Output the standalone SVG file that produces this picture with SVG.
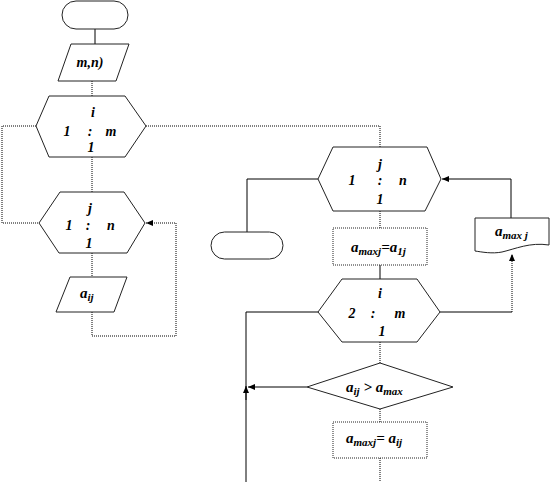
<svg xmlns="http://www.w3.org/2000/svg" width="550" height="482" viewBox="0 0 550 482">
<style>
.sh{fill:#fff;stroke:#222;stroke-width:1}
.sl{fill:none;stroke:#000;stroke-width:1}
.dl{fill:none;stroke:#000;stroke-width:1;stroke-dasharray:1 1}
text{font-family:"Liberation Serif","Times New Roman",serif;font-style:italic;font-weight:bold;fill:#000}
.t{font-size:14px;text-anchor:middle}
.s{font-size:15px}
.sub{font-size:11px}
</style>
<defs>
<marker id="ah" markerWidth="8" markerHeight="8" refX="7" refY="4" orient="auto" markerUnits="userSpaceOnUse">
<path d="M0,1 L7,4 L0,7 Z" fill="#000"/>
</marker>
</defs>
<g id="connectors">
<line class="sl" x1="95" y1="29" x2="95" y2="44"/>
<line class="dl" x1="92" y1="81" x2="92" y2="96"/>
<line class="dl" x1="92" y1="157" x2="92" y2="192"/>
<polyline class="dl" points="36,126 2,126 2,223 39,223"/>
<line class="dl" x1="92" y1="253" x2="92" y2="277"/>
<polyline class="dl" points="92,312 92,336 176,336 176,223 146,223" marker-end="url(#ah)"/>
<polyline class="dl" points="146,126 380,126 380,147"/>
<polyline class="sl" points="318,179 247,179 247,232"/>
<line class="dl" x1="380" y1="211" x2="380" y2="228"/>
<line class="sl" x1="380" y1="265" x2="380" y2="279"/>
<line class="sl" x1="440" y1="312" x2="512" y2="312"/>
<line class="dl" x1="512" y1="312" x2="512" y2="254" marker-end="url(#ah)"/>
<polyline class="sl" points="511,218 511,179 442,179" marker-end="url(#ah)"/>
<polyline class="sl" points="318,312 246,312 246,482"/>
<line class="sl" x1="246" y1="400" x2="246" y2="386" marker-end="url(#ah)"/>
<line class="dl" x1="380" y1="342" x2="380" y2="363"/>
<line class="sl" x1="307" y1="387" x2="248" y2="387" marker-end="url(#ah)"/>
<line class="dl" x1="380" y1="409" x2="380" y2="422"/>
<line class="dl" x1="380" y1="458" x2="380" y2="482"/>
</g>
<g id="start">
<rect class="sh" x="62" y="1" width="66" height="28" rx="14" ry="14"/>
</g>
<g id="input">
<polygon class="sh" points="71,44 129,44 116,81 58,81"/>
<text class="t" x="90" y="67">m,n)</text>
</g>
<g id="loop_i">
<polygon class="sh" points="49,96 125,96 146,126 125,157 49,157 36,126"/>
<text class="t" x="93" y="117">i</text>
<text class="t" x="67" y="136">1</text>
<text class="t" x="90" y="136">:</text>
<text class="t" x="111" y="136">m</text>
<text class="t" x="91" y="152">1</text>
</g>
<g id="loop_j1">
<polygon class="sh" points="60,192 124,192 145,223 127,253 59,253 39,223"/>
<text class="t" x="90" y="213">j</text>
<text class="t" x="69" y="230">1</text>
<text class="t" x="88" y="230">:</text>
<text class="t" x="111" y="230">n</text>
<text class="t" x="89" y="248">1</text>
</g>
<g id="input_aij">
<polygon class="sh" points="70,277 127,277 114,312 56,312"/>
<text class="s" x="80" y="298">a<tspan class="sub" dy="3">ij</tspan></text>
</g>
<g id="loop_j2">
<polygon class="sh" points="333,147 427,147 441,179 425,211 333,211 318,179"/>
<text class="t" x="380" y="169">j</text>
<text class="t" x="352" y="185">1</text>
<text class="t" x="380" y="185">:</text>
<text class="t" x="403" y="185">n</text>
<text class="t" x="380" y="204">1</text>
</g>
<g id="end">
<rect class="sh" x="211" y="232" width="72" height="27" rx="13.5" ry="13.5"/>
</g>
<g id="init_max">
<rect class="sh" x="333" y="228" width="94" height="37" stroke-dasharray="1 1"/>
<text class="s" x="351" y="252">a<tspan class="sub" dy="3">maxj</tspan><tspan dy="-3">=a</tspan><tspan class="sub" dy="3">1j</tspan></text>
</g>
<g id="output">
<path class="sh" d="M475,218 L549,218 L549,245 C530,242 515,249 502,252 C492,254 482,252 475,251 Z"/>
<text class="s" x="495" y="236">a<tspan class="sub" dy="3">max j</tspan></text>
</g>
<g id="loop_i2">
<polygon class="sh" points="342,279 417,279 440,312 417,342 342,342 318,312"/>
<text class="t" x="380" y="298">i</text>
<text class="t" x="352" y="318">2</text>
<text class="t" x="373" y="318">:</text>
<text class="t" x="400" y="318">m</text>
<text class="t" x="382" y="336">1</text>
</g>
<g id="cond">
<polygon class="sh" points="380,363 453,387 380,409 307,387"/>
<text class="s" x="346" y="392">a<tspan class="sub" dy="3">ij</tspan><tspan dy="-3"> &gt; a</tspan><tspan class="sub" dy="3">max</tspan></text>
</g>
<g id="set_max">
<rect class="sh" x="333" y="422" width="94" height="36" stroke-dasharray="1 1"/>
<text class="s" x="346" y="443">a<tspan class="sub" dy="3">maxj</tspan><tspan dy="-3">= a</tspan><tspan class="sub" dy="3">ij</tspan></text>
</g>
</svg>
